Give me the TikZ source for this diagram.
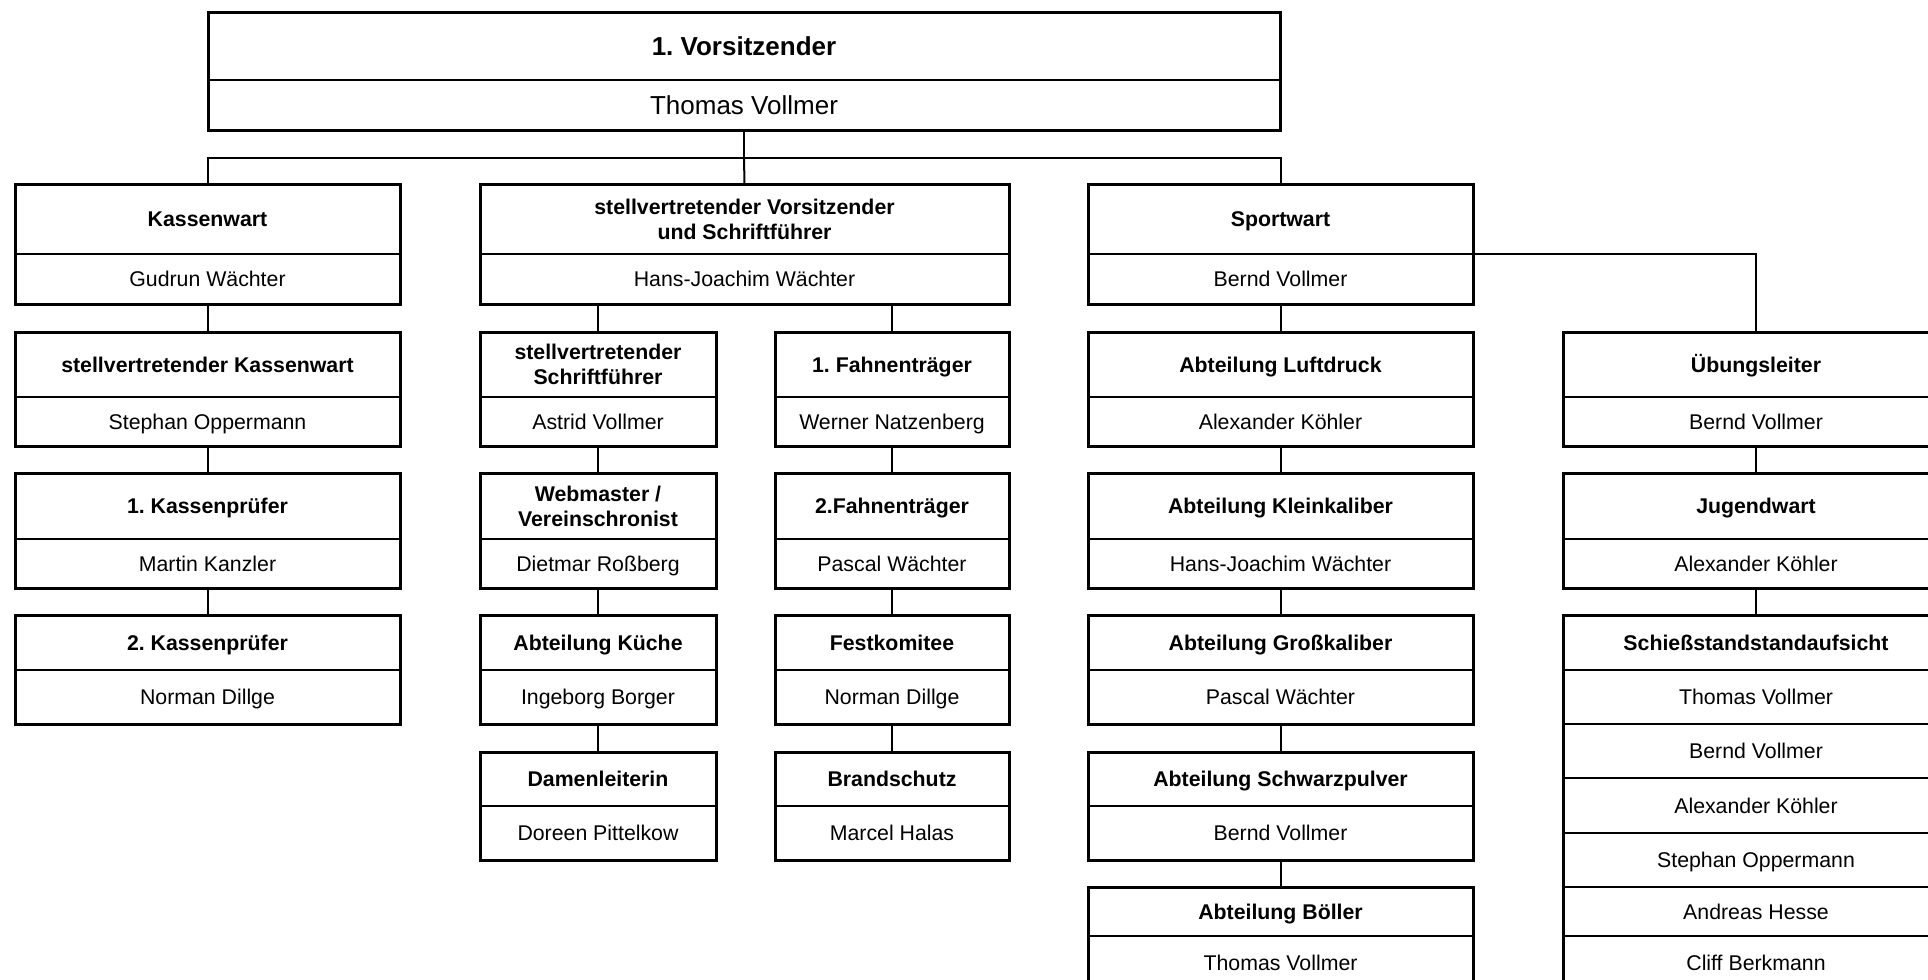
\documentclass[tikz,border=0pt]{standalone}
\usepackage{fontspec}
\setmainfont{Liberation Sans}
\frenchspacing
\newcommand\smallfs{\fontsize{21.3pt}{25pt}\selectfont}
\newcommand\bigfs{\fontsize{26pt}{30pt}\selectfont}
\tikzset{
  cell/.style={inner sep=0pt, outer sep=0pt, align=center},
  namecell/.style={cell, font=\smallfs, text height=15.4pt, text depth=0pt},
  titlecell/.style={cell, font=\bfseries\smallfs, text height=15.4pt, text depth=0pt},
  twoline/.style={text height={}, text depth={}},
  border/.style={line width=3pt},
  divider/.style={line width=2pt},
  rowline/.style={line width=2.6pt},
  conn/.style={line width=2pt},
}
% #1 options for title, #2 name, #3 x1, #4 x2, #5 ytop, #6 ydiv, #7 ybot, #8 title, #9 person
\newcommand\obox[9][]{%
  \node[namecell, minimum width={(#4-#3)*1pt}, minimum height={(#7-#6)*1pt}]
    (#2-p) at ({(#3+#4)/2},{(#6+#7)/2}) {#9};
  \node[titlecell, #1, minimum width={(#4-#3)*1pt}, minimum height={(#6-#5)*1pt}]
    (#2-t) at ({(#3+#4)/2},{(#5+#6)/2}) {#8};
  \draw[divider] (#2-t.south west) -- (#2-t.south east);
  \draw[border] (#2-t.north west) rectangle (#2-p.south east);
}
\begin{document}
\begin{tikzpicture}[x=1pt, y=-1pt]
\useasboundingbox (0,0) rectangle (1928,980);
\clip (0,0) rectangle (1928,980);

% top box
\node[namecell, font=\bigfs, text height=18.8pt, minimum width=1072pt, minimum height=50pt]
  (top-p) at (744,105) {Thomas Vollmer};
\node[titlecell, font=\bfseries\bigfs, text height=18.8pt, minimum width=1072pt, minimum height=68pt]
  (top-t) at (744,46) {1. Vorsitzender};
\draw[divider] (top-t.south west) -- (top-t.south east);
\draw[border] (top-t.north west) rectangle (top-p.south east);

% level 2
\obox{K}{15}{400}{184}{254}{304}{Kassenwart}{Gudrun Wächter}
\obox[twoline]{V}{480}{1009}{184}{254}{304}{stellvertretender Vorsitzender\\und Schriftführer}{Hans-Joachim Wächter}
\obox{S}{1088}{1473}{184}{254}{304}{Sportwart}{Bernd Vollmer}

% Kassenwart column
\obox{K1}{15}{400}{332}{397}{446}{stellvertretender Kassenwart}{Stephan Oppermann}
\obox{K2}{15}{400}{473}{539}{588}{1. Kassenprüfer}{Martin Kanzler}
\obox{K3}{15}{400}{615}{670}{724}{2. Kassenprüfer}{Norman Dillge}

% column A
\obox[twoline]{A1}{480}{716}{332}{397}{446}{stellvertretender\\Schriftführer}{Astrid Vollmer}
\obox[twoline]{A2}{480}{716}{473}{539}{588}{Webmaster /\\Vereinschronist}{Dietmar Roßberg}
\obox{A3}{480}{716}{615}{670}{724}{Abteilung Küche}{Ingeborg Borger}
\obox{A4}{480}{716}{752}{806}{860}{Damenleiterin}{Doreen Pittelkow}

% column B
\obox{B1}{775}{1009}{332}{397}{446}{1. Fahnenträger}{Werner Natzenberg}
\obox{B2}{775}{1009}{473}{539}{588}{2.Fahnenträger}{Pascal Wächter}
\obox{B3}{775}{1009}{615}{670}{724}{Festkomitee}{Norman Dillge}
\obox{B4}{775}{1009}{752}{806}{860}{Brandschutz}{Marcel Halas}

% Sportwart column
\obox{S1}{1088}{1473}{332}{397}{446}{Abteilung Luftdruck}{Alexander Köhler}
\obox{S2}{1088}{1473}{473}{539}{588}{Abteilung Kleinkaliber}{Hans-Joachim Wächter}
\obox{S3}{1088}{1473}{615}{670}{724}{Abteilung Großkaliber}{Pascal Wächter}
\obox{S4}{1088}{1473}{752}{806}{860}{Abteilung Schwarzpulver}{Bernd Vollmer}
\obox{S5}{1088}{1473}{887}{936}{990}{Abteilung Böller}{Thomas Vollmer}

% right column
\obox{U1}{1563}{1949}{332}{397}{446}{Übungsleiter}{Bernd Vollmer}
\obox{U2}{1563}{1949}{473}{539}{588}{Jugendwart}{Alexander Köhler}

\node[titlecell, minimum width=386pt, minimum height=55pt] (U3-t) at (1756,642.5) {Schießstandstandaufsicht};
\node[namecell, minimum width=386pt, minimum height=54pt] (U3-n1) at (1756,697) {Thomas Vollmer};
\node[namecell, minimum width=386pt, minimum height=54pt] (U3-n2) at (1756,751) {Bernd Vollmer};
\node[namecell, minimum width=386pt, minimum height=55pt] (U3-n3) at (1756,805.5) {Alexander Köhler};
\node[namecell, minimum width=386pt, minimum height=54pt] (U3-n4) at (1756,860) {Stephan Oppermann};
\node[namecell, minimum width=386pt, minimum height=49pt] (U3-n5) at (1756,911.5) {Andreas Hesse};
\node[namecell, minimum width=386pt, minimum height=54pt] (U3-n6) at (1756,963) {Cliff Berkmann};
\foreach \r in {U3-t,U3-n1,U3-n2,U3-n3,U3-n4,U3-n5}
  \draw[rowline] (\r.south west) -- (\r.south east);
\draw[border] (U3-t.north west) rectangle (U3-n6.south east);

% connectors
\coordinate (bus) at (744,158);
\draw[conn] (top-p.south) -- (bus);
\draw[conn] (K-t.north) |- (bus) -| (S-t.north);
\draw[conn] (bus) -- (V-t.north);
\draw[conn] (S-t.south east) -| (U1-t.north);
\draw[conn] (V-p.south -| A1-t.north) -- (A1-t.north);
\draw[conn] (V-p.south -| B1-t.north) -- (B1-t.north);
\draw[conn] (K-p.south) -- (K1-t.north);
\draw[conn] (K1-p.south) -- (K2-t.north);
\draw[conn] (K2-p.south) -- (K3-t.north);
\draw[conn] (A1-p.south) -- (A2-t.north);
\draw[conn] (A2-p.south) -- (A3-t.north);
\draw[conn] (A3-p.south) -- (A4-t.north);
\draw[conn] (B1-p.south) -- (B2-t.north);
\draw[conn] (B2-p.south) -- (B3-t.north);
\draw[conn] (B3-p.south) -- (B4-t.north);
\draw[conn] (S-p.south) -- (S1-t.north);
\draw[conn] (S1-p.south) -- (S2-t.north);
\draw[conn] (S2-p.south) -- (S3-t.north);
\draw[conn] (S3-p.south) -- (S4-t.north);
\draw[conn] (S4-p.south) -- (S5-t.north);
\draw[conn] (U1-p.south) -- (U2-t.north);
\draw[conn] (U2-p.south) -- (U3-t.north);
\end{tikzpicture}
\end{document}
